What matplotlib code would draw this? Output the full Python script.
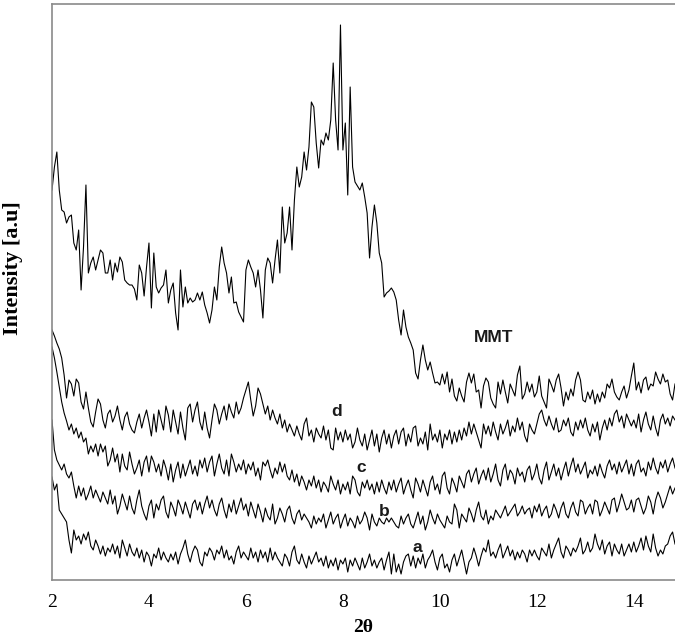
"""XRD patterns of MMT and nanocomposites a-d (2-theta 2..15), stacked traces."""

import matplotlib
matplotlib.use("Agg")  # headless
import matplotlib.pyplot as plt
import numpy as np

# 2-theta grid, 0.05 deg steps
TWO_THETA = np.round(np.arange(2.0, 14.851, 0.05), 2)

# intensities [a.u.] (stacked offsets included)
MMT = [
    390, 413, 428, 390, 370, 368, 357, 363, 365, 337, 330, 350, 290, 333, 395, 307, 317, 323, 310, 320,
    330, 327, 307, 307, 320, 300, 317, 308, 323, 318, 300, 297, 295, 295, 291, 280, 315, 307, 284, 313,
    337, 272, 327, 293, 287, 292, 295, 310, 277, 290, 297, 267, 250, 310, 273, 293, 277, 282, 278, 280,
    287, 280, 288, 275, 267, 257, 270, 293, 280, 313, 333, 317, 307, 287, 303, 277, 278, 268, 263, 258,
    310, 320, 313, 307, 293, 310, 290, 262, 310, 322, 317, 297, 320, 340, 307, 373, 337, 347, 373, 330,
    380, 413, 393, 403, 428, 410, 433, 478, 473, 437, 412, 440, 435, 447, 440, 460, 517, 460, 430, 555,
    430, 457, 385, 493, 413, 398, 394, 390, 397, 383, 367, 322, 353, 375, 357, 327, 317, 283, 287, 289,
    292, 288, 280, 260, 245, 270, 253, 243, 237, 230, 207, 201, 220, 235, 220, 210, 218, 207, 197, 198,
    195, 206, 196, 208, 188, 201, 184, 179, 192, 184, 178, 198, 207, 197, 206, 188, 190, 172, 194, 202,
    198, 182, 176, 172, 198, 186, 200, 188, 177, 196, 190, 184, 205, 214, 181, 186, 198, 188, 196, 183,
    188, 204, 184, 178, 172, 201, 195, 188, 200, 206, 192, 174, 188, 180, 191, 184, 200, 208, 200, 180,
    178, 188, 181, 190, 176, 186, 178, 188, 182, 196, 192, 201, 188, 183, 180, 188, 194, 182, 190, 204,
    217, 190, 198, 187, 200, 203, 190, 196, 194, 208, 201, 196, 206, 198, 200, 186, 180, 196,
]
D = [
    250, 244, 237, 231, 222, 205, 182, 200, 196, 184, 201, 197, 178, 171, 188, 172, 158, 153, 168, 181,
    176, 160, 152, 166, 170, 158, 164, 174, 160, 150, 163, 168, 156, 150, 147, 158, 166, 152, 162, 170,
    158, 144, 166, 148, 170, 160, 150, 174, 165, 148, 170, 158, 146, 168, 152, 140, 172, 176, 158, 170,
    178, 158, 150, 168, 152, 142, 160, 176, 170, 156, 166, 174, 160, 176, 168, 162, 178, 166, 172, 182,
    190, 198, 180, 164, 174, 192, 186, 176, 166, 174, 160, 170, 162, 156, 166, 152, 160, 148, 156, 150,
    144, 154, 146, 140, 156, 162, 144, 150, 138, 152, 146, 142, 154, 140, 150, 132, 130, 152, 140, 148,
    138, 150, 140, 146, 132, 138, 152, 140, 134, 146, 130, 140, 150, 134, 146, 128, 142, 150, 136, 146,
    132, 144, 150, 136, 148, 152, 134, 146, 138, 152, 154, 134, 142, 136, 148, 130, 156, 140, 146, 138,
    150, 132, 146, 140, 150, 136, 148, 138, 150, 140, 152, 144, 158, 146, 156, 148, 140, 132, 156, 146,
    154, 144, 158, 148, 140, 156, 146, 152, 160, 144, 154, 148, 162, 150, 158, 144, 138, 156, 150, 146,
    156, 166, 170, 160, 154, 164, 156, 150, 162, 148, 150, 160, 154, 162, 148, 144, 158, 150, 160, 152,
    162, 150, 144, 156, 148, 158, 140, 152, 160, 150, 162, 154, 166, 170, 158, 164, 152, 166, 160, 154,
    160, 152, 166, 148, 160, 168, 156, 150, 164, 152, 144, 160, 166, 156, 162, 154, 164, 160,
]
C = [
    233, 222, 208, 193, 178, 167, 159, 150, 156, 146, 152, 142, 148, 138, 142, 126, 134, 128, 136, 124,
    136, 128, 134, 114, 120, 132, 118, 126, 108, 126, 114, 110, 128, 116, 106, 112, 120, 104, 118, 124,
    108, 124, 118, 108, 116, 104, 120, 112, 100, 116, 98, 110, 118, 102, 116, 104, 112, 120, 106, 114,
    104, 120, 112, 122, 108, 118, 124, 104, 116, 126, 112, 106, 120, 104, 126, 118, 108, 116, 110, 120,
    106, 116, 110, 118, 104, 112, 100, 118, 114, 120, 110, 102, 112, 106, 118, 108, 116, 104, 100, 110,
    98, 106, 94, 104, 98, 90, 100, 94, 104, 92, 100, 88, 98, 94, 88, 104, 96, 90, 100, 86,
    96, 90, 98, 86, 104, 100, 88, 84, 98, 92, 100, 90, 96, 86, 98, 88, 100, 92, 86, 98,
    90, 100, 88, 96, 102, 86, 94, 100, 90, 82, 102, 96, 88, 100, 92, 84, 98, 104, 90, 96,
    86, 104, 108, 92, 86, 102, 96, 88, 104, 98, 92, 106, 110, 98, 106, 112, 96, 104, 110, 100,
    112, 98, 106, 116, 100, 94, 110, 116, 100, 110, 106, 96, 112, 104, 108, 98, 110, 114, 100, 106,
    116, 102, 96, 110, 118, 100, 108, 116, 104, 112, 100, 110, 118, 104, 114, 122, 108, 116, 106, 112,
    118, 102, 110, 106, 114, 104, 116, 108, 102, 114, 120, 110, 116, 106, 118, 108, 114, 120, 106, 116,
    104, 116, 120, 108, 112, 104, 118, 110, 122, 112, 106, 118, 112, 120, 108, 116, 122, 112,
]
B = [
    160, 130, 120, 115, 110, 116, 106, 102, 108, 94, 82, 94, 84, 92, 80, 86, 94, 82, 90, 84,
    78, 88, 82, 76, 90, 76, 84, 66, 74, 86, 78, 70, 84, 72, 66, 80, 90, 74, 66, 60,
    74, 80, 62, 76, 70, 80, 84, 68, 62, 78, 72, 64, 80, 74, 66, 78, 70, 62, 76, 80,
    70, 78, 66, 76, 84, 72, 80, 70, 64, 76, 82, 70, 62, 76, 68, 80, 66, 74, 82, 70,
    76, 64, 78, 70, 62, 76, 68, 58, 72, 64, 60, 76, 56, 62, 72, 66, 58, 70, 74, 62,
    56, 66, 70, 60, 66, 62, 58, 52, 64, 56, 62, 58, 66, 52, 60, 68, 56, 62, 66, 52,
    60, 66, 54, 62, 58, 52, 64, 56, 60, 68, 62, 50, 66, 58, 54, 62, 58, 56, 62, 58,
    62, 58, 54, 52, 64, 56, 62, 66, 56, 52, 60, 68, 56, 64, 50, 58, 70, 62, 56, 66,
    60, 56, 52, 64, 58, 56, 76, 70, 52, 66, 62, 58, 72, 66, 58, 70, 78, 64, 60, 70,
    56, 64, 60, 70, 66, 62, 68, 74, 64, 68, 72, 76, 64, 68, 74, 66, 70, 72, 62, 74,
    68, 76, 64, 70, 74, 62, 66, 76, 70, 62, 72, 78, 66, 62, 72, 78, 68, 64, 80, 78,
    66, 72, 76, 66, 80, 78, 64, 70, 78, 72, 66, 80, 82, 68, 76, 86, 78, 70, 72, 80,
    68, 80, 82, 74, 66, 72, 84, 78, 66, 80, 88, 82, 72, 78, 86, 94, 86, 92,
]
A = [
    103, 90, 96, 70, 66, 62, 58, 40, 27, 50, 40, 44, 36, 46, 40, 48, 34, 30, 40, 34,
    26, 34, 24, 32, 28, 36, 26, 34, 22, 40, 32, 24, 36, 28, 24, 32, 22, 30, 18, 28,
    24, 14, 26, 22, 32, 20, 28, 22, 18, 26, 20, 28, 16, 26, 32, 40, 26, 18, 28, 34,
    30, 18, 14, 28, 24, 32, 28, 20, 30, 26, 34, 22, 30, 20, 24, 16, 28, 34, 22, 28,
    24, 20, 32, 22, 28, 18, 30, 22, 28, 18, 32, 20, 28, 22, 18, 14, 26, 22, 14, 28,
    34, 20, 16, 26, 18, 12, 24, 16, 22, 28, 18, 22, 14, 24, 12, 20, 14, 22, 10, 20,
    16, 22, 8, 20, 14, 22, 16, 10, 22, 12, 18, 26, 14, 20, 12, 18, 22, 10, 20, 28,
    6, 26, 8, 16, 6, 18, 24, 26, 14, 24, 12, 22, 16, 26, 12, 20, 24, 30, 18, 10,
    22, 26, 12, 16, 8, 20, 26, 14, 22, 30, 18, 6, 18, 22, 32, 24, 14, 24, 32, 28,
    40, 24, 28, 22, 30, 36, 22, 28, 34, 24, 30, 20, 28, 22, 30, 26, 18, 30, 24, 30,
    24, 20, 32, 28, 24, 36, 22, 30, 36, 42, 28, 22, 34, 30, 24, 32, 28, 34, 42, 26,
    30, 38, 28, 32, 46, 36, 30, 40, 26, 34, 38, 24, 36, 30, 26, 36, 24, 30, 36, 28,
    38, 28, 34, 42, 30, 44, 34, 28, 46, 32, 24, 30, 26, 34, 36, 44, 48, 36,
]
SERIES = {"MMT": MMT, "d": D, "c": C, "b": B, "a": A}

# where each trace name sits (2-theta, intensity)
LABEL_POS = {"MMT": (11.1, 243), "d": (7.87, 168), "c": (8.37, 112),
             "b": (8.86, 68), "a": (9.54, 33)}

SERIF = ["Liberation Serif", "DejaVu Serif"]
SANS = ["Liberation Sans", "DejaVu Sans"]


def main():
    fig = plt.figure(figsize=(6.75, 6.4), dpi=100)
    ax = fig.add_axes([52 / 675, 60 / 640, 623 / 675, 576 / 640])

    for name, vals in SERIES.items():
        assert len(vals) == len(TWO_THETA), name
        ax.plot(TWO_THETA, vals, color="black", lw=0.8)
        lx, ly = LABEL_POS[name]
        ax.text(lx, ly, name, ha="center", va="center", fontsize=12.5,
                fontweight="bold", family=SANS, color="#1a1a1a")

    ax.set_xlim(2, 14.85)
    ax.set_ylim(0, 576)
    ax.set_xticks(range(2, 15, 2))
    ax.set_yticks([])
    ax.tick_params(axis="x", length=0, pad=10, labelsize=14)
    for lab in ax.get_xticklabels():
        lab.set_family(SERIF)

    for side in ("left", "bottom", "top"):
        ax.spines[side].set_color("#8a8a8a")
        ax.spines[side].set_linewidth(1.2)
    ax.spines["right"].set_visible(False)

    ax.set_xlabel("2θ", family=SERIF, fontweight="bold", fontsize=14, labelpad=6)
    ax.set_ylabel("Intensity [a.u]", family=SERIF, fontweight="bold", fontsize=16)
    ax.yaxis.set_label_coords(-0.047, 0.542)

    fig.savefig("out.png", dpi=100)


if __name__ == "__main__":
    main()
